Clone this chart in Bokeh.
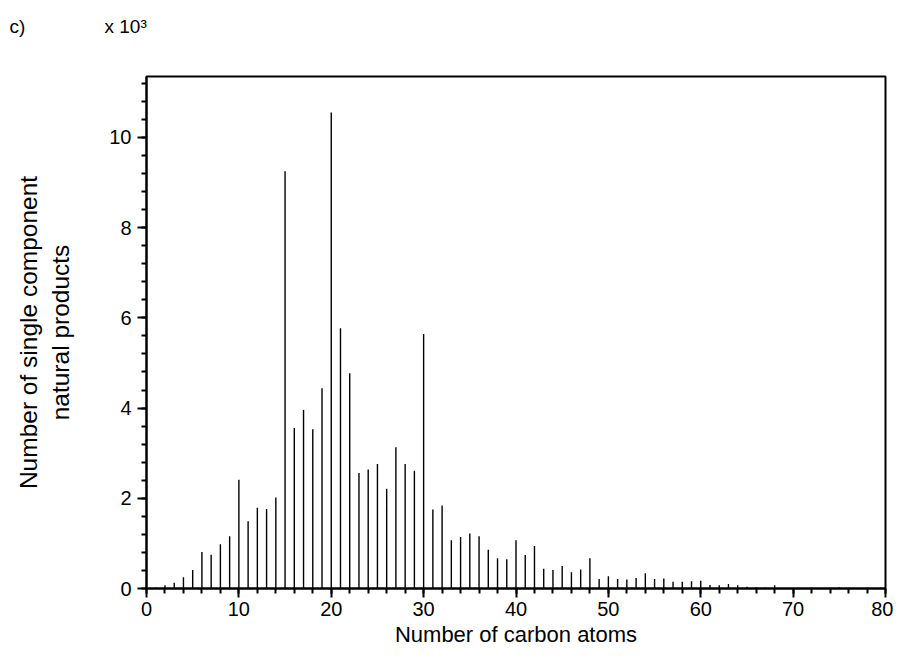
from bokeh.plotting import figure
from bokeh.models import FixedTicker, Range1d, Title
from bokeh.embed import file_html
from bokeh.resources import INLINE

# Number of carbon atoms
carbon_atoms = list(range(1, 80))
# Number of single component natural products (x 10^3)
counts = [
    0.02, 0.07, 0.13, 0.25, 0.41, 0.81, 0.75, 0.98, 1.16, 2.41,
    1.49, 1.79, 1.76, 2.02, 9.25, 3.56, 3.96, 3.53, 4.44, 10.55,
    5.77, 4.77, 2.56, 2.64, 2.76, 2.21, 3.13, 2.76, 2.61, 5.64,
    1.75, 1.84, 1.07, 1.14, 1.22, 1.16, 0.86, 0.67, 0.65, 1.07,
    0.74, 0.94, 0.44, 0.41, 0.50, 0.36, 0.42, 0.67, 0.21, 0.27,
    0.21, 0.20, 0.23, 0.34, 0.21, 0.22, 0.15, 0.15, 0.16, 0.17,
    0.08, 0.07, 0.10, 0.07, 0.04, 0.03, 0.02, 0.07, 0.01, 0.01,
    0.01, 0.01, 0.01, 0.01, 0.03, 0.01, 0.01, 0.01, 0.01,
]
x_major = [0, 10, 20, 30, 40, 50, 60, 70, 80]
x_minor = [v for v in range(0, 81, 2)]
y_major = [0, 2, 4, 6, 8, 10]
y_minor = [round(0.4 * i, 1) for i in range(0, 29)]
panel_tag = "c)"
scale_tag = "x 10³"

FONT = "Liberation Sans"

p = figure(width=893, height=660, output_backend="svg", toolbar_location=None,
           x_range=Range1d(0, 80), y_range=Range1d(0, 11.35),
           min_border_left=146, min_border_right=8, min_border_top=76, min_border_bottom=72)
p.grid.visible = False
p.background_fill_color = "white"
p.border_fill_color = "white"
p.outline_line_color = "black"
p.outline_line_width = 2

p.segment(x0=carbon_atoms, y0=[0] * len(counts), x1=carbon_atoms, y1=counts,
          line_color="black", line_width=1.4)

for ax in (p.xaxis[0], p.yaxis[0]):
    ax.axis_line_width = 2
    ax.axis_line_color = "black"
    ax.major_tick_line_width = 2
    ax.minor_tick_line_width = 2
    ax.major_tick_in = 0
    ax.minor_tick_in = 0
    ax.major_tick_out = 9
    ax.minor_tick_out = 5
    ax.major_label_text_font = FONT
    ax.major_label_text_font_size = "20px"
    ax.major_label_text_color = "black"
    ax.axis_label_text_font = FONT
    ax.axis_label_text_font_style = "normal"
    ax.axis_label_text_color = "black"

p.xaxis.ticker = FixedTicker(ticks=x_major, minor_ticks=x_minor)
p.yaxis.ticker = FixedTicker(ticks=y_major, minor_ticks=y_minor)
p.xaxis.major_label_standoff = 4
p.yaxis.major_label_standoff = 6
p.xaxis.axis_label = "Number of carbon atoms"
p.xaxis.axis_label_text_font_size = "22px"
p.xaxis.axis_label_standoff = 3
p.yaxis.axis_label = "Number of single component\nnatural products"
p.yaxis.axis_label_text_font_size = "24.5px"
p.yaxis.axis_label_standoff = 32

# spacer between the frame and the corner annotation line
p.add_layout(Title(text="\u00a0", text_font_size="2px", standoff=34), "above")

# corner annotations as the title line (non-breaking spaces keep the gap)
p.title.text = panel_tag + "\u00a0" * 15 + scale_tag
p.title.align = "left"
p.title.offset = -137
p.title.standoff = 4
p.title.text_font = FONT
p.title.text_font_size = "19px"
p.title.text_font_style = "normal"
p.title.text_color = "black"

open("out.html", "w").write(file_html(p, INLINE))
